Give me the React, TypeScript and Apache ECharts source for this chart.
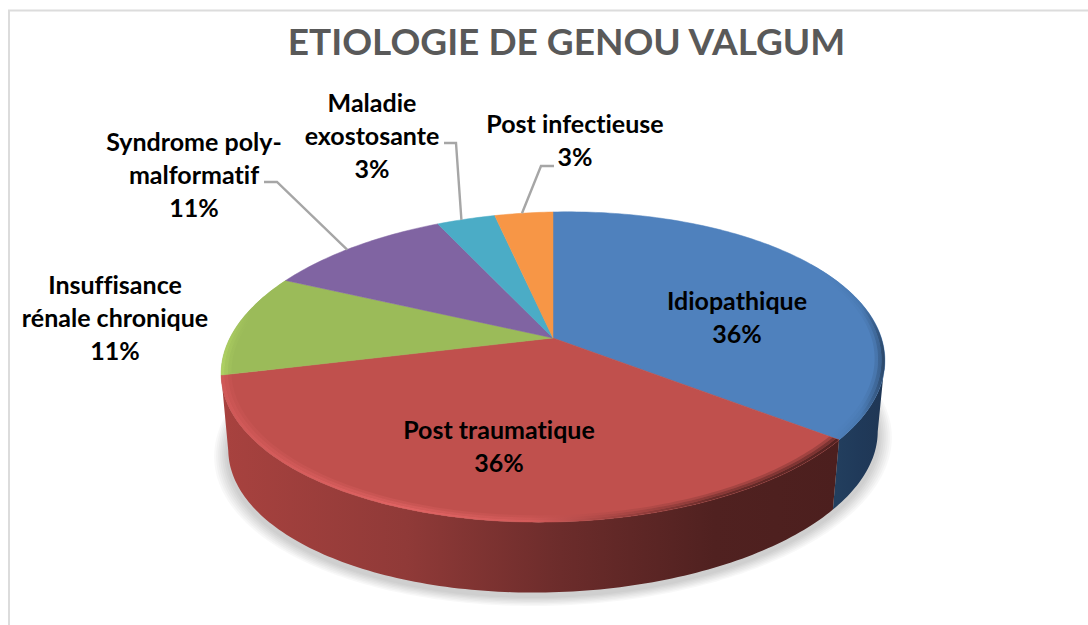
import React, { useEffect, useRef } from "react";
import * as echarts from "echarts";

const titleText = "ETIOLOGIE DE GENOU VALGUM";
const categories = [
  "Idiopathique",
  "Post traumatique",
  "Insuffisance\nrénale chronique",
  "Syndrome poly-\nmalformatif",
  "Maladie\nexostosante",
  "Post infectieuse",
];
const values = [36, 36, 10.7, 10.7, 3.4, 3.4];
const colors = ["#4f81bd", "#c0504d", "#9bbb59", "#8064a2", "#4bacc6", "#f79646"];

// Layout (not data): label anchor centre, leader elbow points, where the leader meets its slice
const labelCenters: number[][] = [
  [737, 316.5],
  [499, 445],
  [115, 316.5],
  [194, 173.5],
  [372, 134.5],
  [575, 139.5],
];
const leaders: (number[][] | null)[] = [
  null,
  null,
  null,
  [[264, 182], [277, 182]],
  [[444, 143], [456, 143]],
  [[554, 166], [541, 166]],
];
const leaderFractions = [0.5, 0.5, 0.5, 0.45, 0.42, 0.47];

const total = values.reduce((a, b) => a + b, 0);
const starts: number[] = [];
values.reduce((acc, v) => {
  starts.push(acc);
  return acc + (v / total) * 360;
}, 0);
const spans = values.map((v) => (v / total) * 360);

const TOP = { cx: 553, cy: 338, rx: 326, ry: 149.6, p: 0.187, s: -0.02 };
const BOTTOM = { cx: 553, cy: 412, rx: 319, ry: 146.6, p: 0.187, s: -0.028 };
const SHADOW = { ...BOTTOM, cy: 416 };
const WIDE_R = 100.8;
const WIDE_L = 259.2;

function project(level: typeof TOP, r: number, deg: number): number[] {
  const t = (deg * Math.PI) / 180;
  const X = r * Math.sin(t);
  const Y = -r * Math.cos(t);
  const den = 1 - level.p * Y;
  const x = level.cx + (level.rx * X) / den;
  const y = level.cy + (level.ry * Y) / den + level.s * ((level.rx * X) / den);
  return [x, y];
}

function arc(level: typeof TOP, r: number, a0: number, a1: number): number[][] {
  const n = Math.max(2, Math.ceil(Math.abs(a1 - a0)));
  const out: number[][] = [];
  for (let i = 0; i <= n; i++) out.push(project(level, r, a0 + ((a1 - a0) * i) / n));
  return out;
}

function grad(stops: [number, string][], x0 = 221, x1 = 885): any {
  return {
    type: "linear",
    global: true,
    x: x0,
    y: 0,
    x2: x1,
    y2: 0,
    colorStops: stops.map(([offset, color]) => ({ offset, color })),
  };
}

const wallFills: any[] = [
  grad([[0, "#23405f"], [0.5, "#203a5a"], [1, "#1f3654"]], 830, 885),
  grad([[0, "#a8423f"], [0.3, "#903a38"], [0.55, "#6c2c2b"], [0.8, "#502120"], [1, "#4c1f1e"]], 221, 838),
];
const rimFills: any[] = [
  grad([[0, "#4f81bd"], [0.6, "#4878b0"], [0.9, "#34567f"], [1, "#2a4666"]], 825, 885),
  grad([[0, "#cf5857"], [0.3, "#e06363"], [0.5, "#d35b5a"], [0.62, "#a84644"], [0.8, "#6a2c2a"], [1, "#552322"]], 221, 838),
  grad([[0, "#aed062"], [1, "#9bbb59"]], 221, 250),
];
const rimBands: number[][] = [
  [1, 0.99, 1],
  [0.99, 0.98, 0.65],
  [0.98, 0.97, 0.3],
];
const shadowLayers = [1.006, 1.012, 1.018, 1.024, 1.03, 1.036, 1.042];

function renderWall(params: any): any {
  const i = params.dataIndex;
  const children: any[] = [];
  if (i === 0) {
    shadowLayers
      .slice()
      .reverse()
      .forEach((r) => {
        children.push({
          type: "polygon",
          shape: { points: arc(SHADOW, r, 0, 360) },
          style: { fill: "#000000", opacity: 0.028 },
        });
      });
  }
  const a0 = Math.max(starts[i], WIDE_R);
  const a1 = Math.min(starts[i] + spans[i], WIDE_L);
  if (a1 > a0 && wallFills[i]) {
    const points = arc(TOP, 1, a0, a1).concat(arc(BOTTOM, 1, a0, a1).reverse());
    children.push({ type: "polygon", shape: { points }, style: { fill: wallFills[i] } });
  }
  return { type: "group", children };
}

function renderTop(params: any): any {
  const i = params.dataIndex;
  const a0 = starts[i];
  const a1 = a0 + spans[i];
  const points = [project(TOP, 0, 0)].concat(arc(TOP, 1, a0, a1));
  const children: any[] = [
    {
      type: "polygon",
      shape: { points },
      style: { fill: colors[i], stroke: colors[i], lineWidth: 0.5 },
    },
  ];
  if (rimFills[i]) {
    const rimA0 = i === 0 ? 60 : a0;
    rimBands.forEach(([r0, r1, opacity]) => {
      const rim = arc(TOP, r0, rimA0, a1).concat(arc(TOP, r1, rimA0, a1).reverse());
      children.push({ type: "polygon", shape: { points: rim }, style: { fill: rimFills[i], opacity } });
    });
  }
  return { type: "group", children };
}

function renderLabel(params: any): any {
  const i = params.dataIndex;
  const children: any[] = [];
  const lead = leaders[i];
  if (lead) {
    const end = project(TOP, 1, starts[i] + spans[i] * leaderFractions[i]);
    children.push({
      type: "polyline",
      shape: { points: [...lead, end] },
      style: { stroke: "#a6a6a6", lineWidth: 2.4, fill: "none" },
    });
  }
  const pct = Math.round((values[i] / total) * 100);
  children.push({
    type: "text",
    style: {
      text: `${categories[i]}\n${pct}%`,
      x: labelCenters[i][0],
      y: labelCenters[i][1],
      align: "center",
      verticalAlign: "middle",
      font: 'bold 25px Lato, "Open Sans", sans-serif',
      lineHeight: 33,
      fill: "#000000",
    },
  });
  return { type: "group", children };
}

export default function App() {
  const ref = useRef<HTMLDivElement>(null);
  useEffect(() => {
    document.body.style.margin = "0";
    const chart = echarts.init(ref.current!, undefined, { renderer: "svg" });
    const data = categories.map((name, k) => ({ name, value: values[k] }));
    chart.setOption({
      animation: false,
      backgroundColor: "#ffffff",
      title: {
        text: titleText,
        left: 561.5,
        top: 17,
        textAlign: "center",
        textStyle: {
          fontFamily: "Lato, 'Open Sans', sans-serif",
          fontSize: 37,
          fontWeight: "bold",
          color: "#595959",
        },
      },
      graphic: [
        {
          type: "polyline",
          shape: { points: [[9, 625], [9, 10.5], [1088, 10.5]] },
          style: { stroke: "#dcdcdc", lineWidth: 2, fill: "none" },
          silent: true,
        },
      ],
      series: [
        { type: "custom", coordinateSystem: "none", z: 1, silent: true, data, renderItem: renderWall },
        { type: "custom", coordinateSystem: "none", z: 2, silent: true, data, renderItem: renderTop },
        { type: "custom", coordinateSystem: "none", z: 3, silent: true, data, renderItem: renderLabel },
      ],
    });
    return () => chart.dispose();
  }, []);
  return (
    <>
      <style>{"svg text { font-variant-ligatures: none !important; font-feature-settings: 'liga' 0 !important; }"}</style>
      <div ref={ref} style={{ position: "absolute", left: 0, top: 0, width: 1088, height: 625 }} />
    </>
  );
}
